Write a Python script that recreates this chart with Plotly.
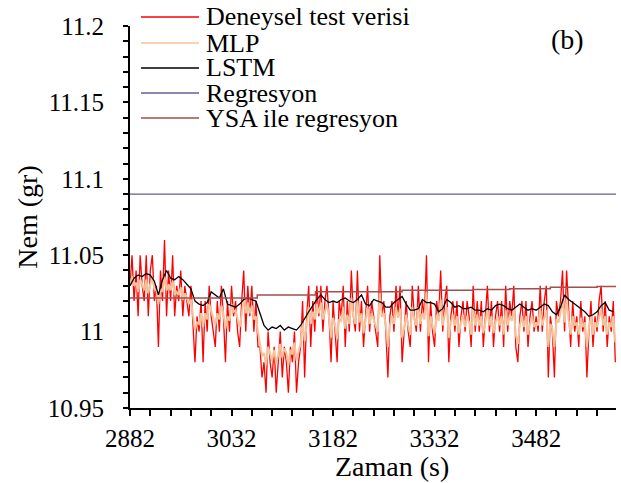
import plotly.graph_objects as go

# ---------------- data ----------------
seriler = ["Deneysel test verisi", "MLP", "LSTM", "Regresyon", "YSA ile regresyon"]
renkler = ["#FF0000", "#F7C29A", "#000000", "#66618C", "#A64D4D"]

zaman_baslangic = 2882
zaman_adim = 3          # sampling step of the measured / MLP series (s)
lstm_adim = 6           # sampling step used for the LSTM series (s)

deneysel = [
    11.03, 11.05, 11.02, 11.04, 11.01, 11.05, 11.03, 11.02, 11.05, 11.01,
    11.04, 11.05, 11.02, 11.03, 10.99, 11.04, 11.02, 11.06, 11.01, 11.04,
    11.02, 11.05, 11.01, 11.03, 11.02, 11.04, 11.01, 11.03, 11.02, 11.01,
    11.03, 11.00, 10.98, 11.01, 11.00, 11.02,
    10.98, 11.02, 11.00, 11.03, 11.01, 11.00, 10.99, 11.02, 11.00, 11.03,
    11.01, 10.98, 11.02, 11.00, 11.03, 11.01, 11.02, 11.00, 10.99, 11.02,
    11.04, 11.00, 11.03, 11.01, 11.03, 11.00, 11.02, 10.99,
    10.99, 10.97, 10.98, 10.96, 11.00, 10.98, 10.97, 10.99, 10.96, 10.98,
    11.00, 10.97, 10.99, 10.98, 10.96, 10.99, 10.98, 11.00, 10.96, 10.98,
    10.99, 11.02, 10.97, 11.01, 11.03, 10.99, 11.02, 11.00,
    11.03, 11.01, 11.03, 11.00, 11.02, 11.03, 11.01, 10.98, 11.02, 11.00,
    10.98, 11.02, 11.01, 11.03, 10.99, 11.02, 11.00, 11.04, 11.01, 11.00,
    11.04, 11.00, 11.02, 10.99, 11.01, 11.03, 11.00, 11.02, 11.01, 11.00,
    10.99, 11.05, 11.01, 11.02, 11.00, 10.97, 11.01, 11.02, 11.00, 11.03,
    11.01, 11.03, 10.98, 11.00, 11.02, 11.00, 10.99, 11.03, 11.01, 11.00,
    11.03, 11.00, 11.02, 11.01, 11.05, 10.98, 11.02, 11.00, 10.99, 11.02,
    11.01, 11.04, 11.00, 11.02, 11.03, 10.98, 11.01, 11.02, 11.00, 11.02,
    10.99, 11.01, 11.02, 11.00, 11.02, 11.01, 10.99, 11.03, 11.00, 11.02,
    11.00, 11.02, 10.99, 11.01, 11.03, 11.00, 11.02, 10.99, 11.01, 11.02,
    11.00, 11.02, 10.99, 11.03, 11.00, 11.02, 11.01, 11.03, 10.99, 10.98,
    11.01, 11.02, 11.00, 11.02, 10.99, 11.01, 11.02, 11.00, 11.01, 11.00,
    11.03, 11.00, 11.02, 11.03, 10.97, 11.01, 11.00, 10.97, 11.02, 11.01,
    11.02, 11.04, 11.00, 11.04, 11.01, 10.99, 11.02, 11.00, 11.01, 10.99,
    11.02, 11.00, 11.01, 10.97, 11.00, 11.02, 10.99, 11.01, 11.00, 11.02,
    11.03, 11.00, 11.02, 10.99, 11.01, 11.00, 11.02, 10.98,
]

mlp = [
    11.030, 11.036, 11.030, 11.032, 11.026, 11.034, 11.031, 11.027, 11.034, 11.025,
    11.031, 11.035, 11.028, 11.027, 11.018, 11.028, 11.026, 11.036, 11.027, 11.031,
    11.027, 11.033, 11.024, 11.026, 11.024, 11.029, 11.021, 11.025, 11.022, 11.018,
    11.021, 11.012, 11.001, 11.006, 11.005, 11.012,
    11.003, 11.012, 11.008, 11.018, 11.013, 11.008, 11.004, 11.012, 11.008, 11.017,
    11.012, 11.002, 11.010, 11.007, 11.018, 11.013, 11.014, 11.008, 11.003, 11.011,
    11.022, 11.012, 11.019, 11.012, 11.017, 11.008, 11.010, 11.000,
    10.992, 10.984, 10.986, 10.978, 10.990, 10.985, 10.981, 10.988, 10.979, 10.985,
    10.992, 10.983, 10.989, 10.986, 10.978, 10.988, 10.985, 10.993, 10.981, 10.987,
    10.992, 11.006, 10.994, 11.004, 11.016, 11.005, 11.013, 11.008,
    11.018, 11.012, 11.019, 11.008, 11.013, 11.018, 11.010, 10.996, 11.009, 11.004,
    10.995, 11.008, 11.007, 11.016, 11.002, 11.011, 11.005, 11.022, 11.010, 11.005,
    11.020, 11.006, 11.012, 10.999, 11.007, 11.016, 11.005, 11.012, 11.008, 11.004,
    11.000, 11.025, 11.010, 11.012, 11.004, 10.990, 11.004, 11.010, 11.005, 11.016,
    11.009, 11.015, 10.996, 11.002, 11.011, 11.004, 10.998, 11.016, 11.008, 11.004,
    11.016, 11.005, 11.012, 11.008, 11.026, 10.997, 11.010, 11.004, 10.999, 11.011,
    11.007, 11.021, 11.004, 11.011, 11.016, 10.996, 11.006, 11.011, 11.004, 11.010,
    10.999, 11.006, 11.011, 11.003, 11.010, 11.006, 10.998, 11.015, 11.004, 11.011,
    11.004, 11.010, 10.999, 11.006, 11.015, 11.004, 11.010, 10.999, 11.006, 11.010,
    11.004, 11.010, 10.998, 11.014, 11.004, 11.011, 11.007, 11.015, 10.998, 10.992,
    11.004, 11.010, 11.003, 11.010, 10.998, 11.005, 11.010, 11.003, 11.006, 11.004,
    11.015, 11.004, 11.010, 11.014, 10.990, 11.005, 11.002, 10.990, 11.008, 11.006,
    11.012, 11.022, 11.006, 11.022, 11.008, 10.998, 11.010, 11.004, 11.006, 10.998,
    11.009, 11.003, 11.006, 10.990, 11.002, 11.010, 10.998, 11.006, 11.003, 11.010,
    11.015, 11.004, 11.010, 10.998, 11.006, 11.003, 11.010, 10.993,
]

lstm = [
    11.030, 11.035, 11.037, 11.036, 11.038, 11.037, 11.033, 11.024, 11.034, 11.040,
    11.035, 11.034, 11.036, 11.034, 11.031, 11.028, 11.020, 11.018, 11.017, 11.019,
    11.026, 11.024, 11.022, 11.028, 11.018, 11.017, 11.016, 11.018, 11.021, 11.022,
    11.021, 11.020, 11.012, 11.004, 11.001, 11.003, 11.002, 11.004, 11.001, 11.003,
    11.002, 11.001, 11.004, 11.009, 11.013, 11.017, 11.021, 11.024, 11.021, 11.019,
    11.020, 11.019, 11.021, 11.022, 11.020, 11.019, 11.021, 11.024, 11.018, 11.017,
    11.021, 11.020, 11.019, 11.016, 11.016, 11.019, 11.021, 11.023, 11.018, 11.014,
    11.014, 11.015, 11.021, 11.019, 11.019, 11.018, 11.013, 11.015, 11.021, 11.019,
    11.016, 11.017, 11.015, 11.015, 11.016, 11.014, 11.014, 11.013, 11.015, 11.014,
    11.017, 11.018, 11.017, 11.015, 11.014, 11.016, 11.018, 11.016, 11.014, 11.015,
    11.014, 11.016, 11.018, 11.017, 11.013, 11.011, 11.016, 11.024, 11.021, 11.019,
    11.017, 11.015, 11.013, 11.010, 11.011, 11.013, 11.017, 11.019, 11.014, 11.013,
]

regresyon_zaman = [2882, 3600]
regresyon = [11.09, 11.09]

ysa_zaman = [2882, 3070, 3156, 3284, 3389, 3443, 3503, 3572, 3600]
ysa_regresyon = [11.022, 11.024, 11.026, 11.027, 11.0275, 11.028, 11.029, 11.0295, 11.0295]

x_tick0, x_dtick, x_minor = 2882, 150, 30
x_aralik = [2882, 3600]
y_aralik = [10.95, 11.2]
y_dtick, y_minor = 0.05, 0.01

zaman = list(range(zaman_baslangic, zaman_baslangic + zaman_adim * len(deneysel), zaman_adim))
zaman_lstm = list(range(zaman_baslangic, zaman_baslangic + lstm_adim * len(lstm), lstm_adim))

# ---------------- figure ----------------
FONT = "Liberation Serif"
W, H = 621, 483
ML, MR, MT, MB = 130, 5, 26, 75

fig = go.Figure()
fig.add_trace(go.Scatter(x=zaman, y=deneysel, mode="lines", name=seriler[0],
                         line=dict(color=renkler[0], width=1.3)))
fig.add_trace(go.Scatter(x=zaman, y=mlp, mode="lines", name=seriler[1],
                         line=dict(color=renkler[1], width=2)))
fig.add_trace(go.Scatter(x=zaman_lstm, y=lstm, mode="lines", name=seriler[2],
                         line=dict(color=renkler[2], width=1.3)))
fig.add_trace(go.Scatter(x=regresyon_zaman, y=regresyon, mode="lines", name=seriler[3],
                         line=dict(color=renkler[3], width=1.2)))
fig.add_trace(go.Scatter(x=ysa_zaman, y=ysa_regresyon, mode="lines", name=seriler[4],
                         line=dict(color=renkler[4], width=1.5, shape="hv")))

pw = W - ML - MR
ph = H - MT - MB


def px_x(p):
    return (p - ML) / pw


def px_y(p):
    return (H - MB - p) / ph


# legend drawn as line samples + labels (Excel-like compact spacing)
leg_rows = [17, 43, 68, 93, 118]
shapes, annotations = [], []
for name, col, ry in zip(seriler, renkler, leg_rows):
    shapes.append(dict(type="line", xref="paper", yref="paper",
                       x0=px_x(141), x1=px_x(199), y0=px_y(ry), y1=px_y(ry),
                       line=dict(color=col, width=1.3)))
    annotations.append(dict(text=name, xref="paper", yref="paper",
                            x=px_x(204), y=px_y(ry), xanchor="left", yanchor="middle",
                            showarrow=False, font=dict(family=FONT, size=26, color="black")))
annotations.append(dict(text="(b)", xref="paper", yref="paper",
                        x=px_x(567), y=px_y(40), xanchor="center", yanchor="middle",
                        showarrow=False, font=dict(family=FONT, size=28, color="black")))
# x axis title (placed as in the reference, slightly right of centre)
annotations.append(dict(text="Zaman (s)", xref="paper", yref="paper",
                        x=px_x(392), y=px_y(466), xanchor="center", yanchor="middle",
                        showarrow=False, font=dict(family=FONT, size=28, color="black")))

fig.update_layout(
    width=W, height=H,
    margin=dict(l=ML, r=MR, t=MT, b=MB, pad=0),
    paper_bgcolor="white", plot_bgcolor="white",
    showlegend=False,
    font=dict(family=FONT, color="black"),
    shapes=shapes, annotations=annotations,
    xaxis=dict(range=x_aralik, tick0=x_tick0, dtick=x_dtick,
               showgrid=False, zeroline=False,
               showline=True, linecolor="black", linewidth=2,
               ticks="outside", ticklen=6, tickwidth=1.5, tickcolor="black",
               minor=dict(dtick=x_minor, tick0=x_tick0, ticks="outside", ticklen=6,
                          tickwidth=1.5, tickcolor="black", showgrid=False),
               tickfont=dict(family=FONT, size=25), ticklabelstandoff=1),
    yaxis=dict(range=y_aralik, dtick=y_dtick, tick0=10.95,
               showgrid=False, zeroline=False,
               showline=True, linecolor="black", linewidth=2,
               ticks="outside", ticklen=5, tickwidth=1.5, tickcolor="black",
               minor=dict(dtick=y_minor, ticks="outside", ticklen=5,
                          tickwidth=1.5, tickcolor="black", showgrid=False),
               tickfont=dict(family=FONT, size=25), ticklabelstandoff=14,
               title=dict(text="Nem (gr)", font=dict(family=FONT, size=28), standoff=2)),
)

fig.write_html("out.html")
